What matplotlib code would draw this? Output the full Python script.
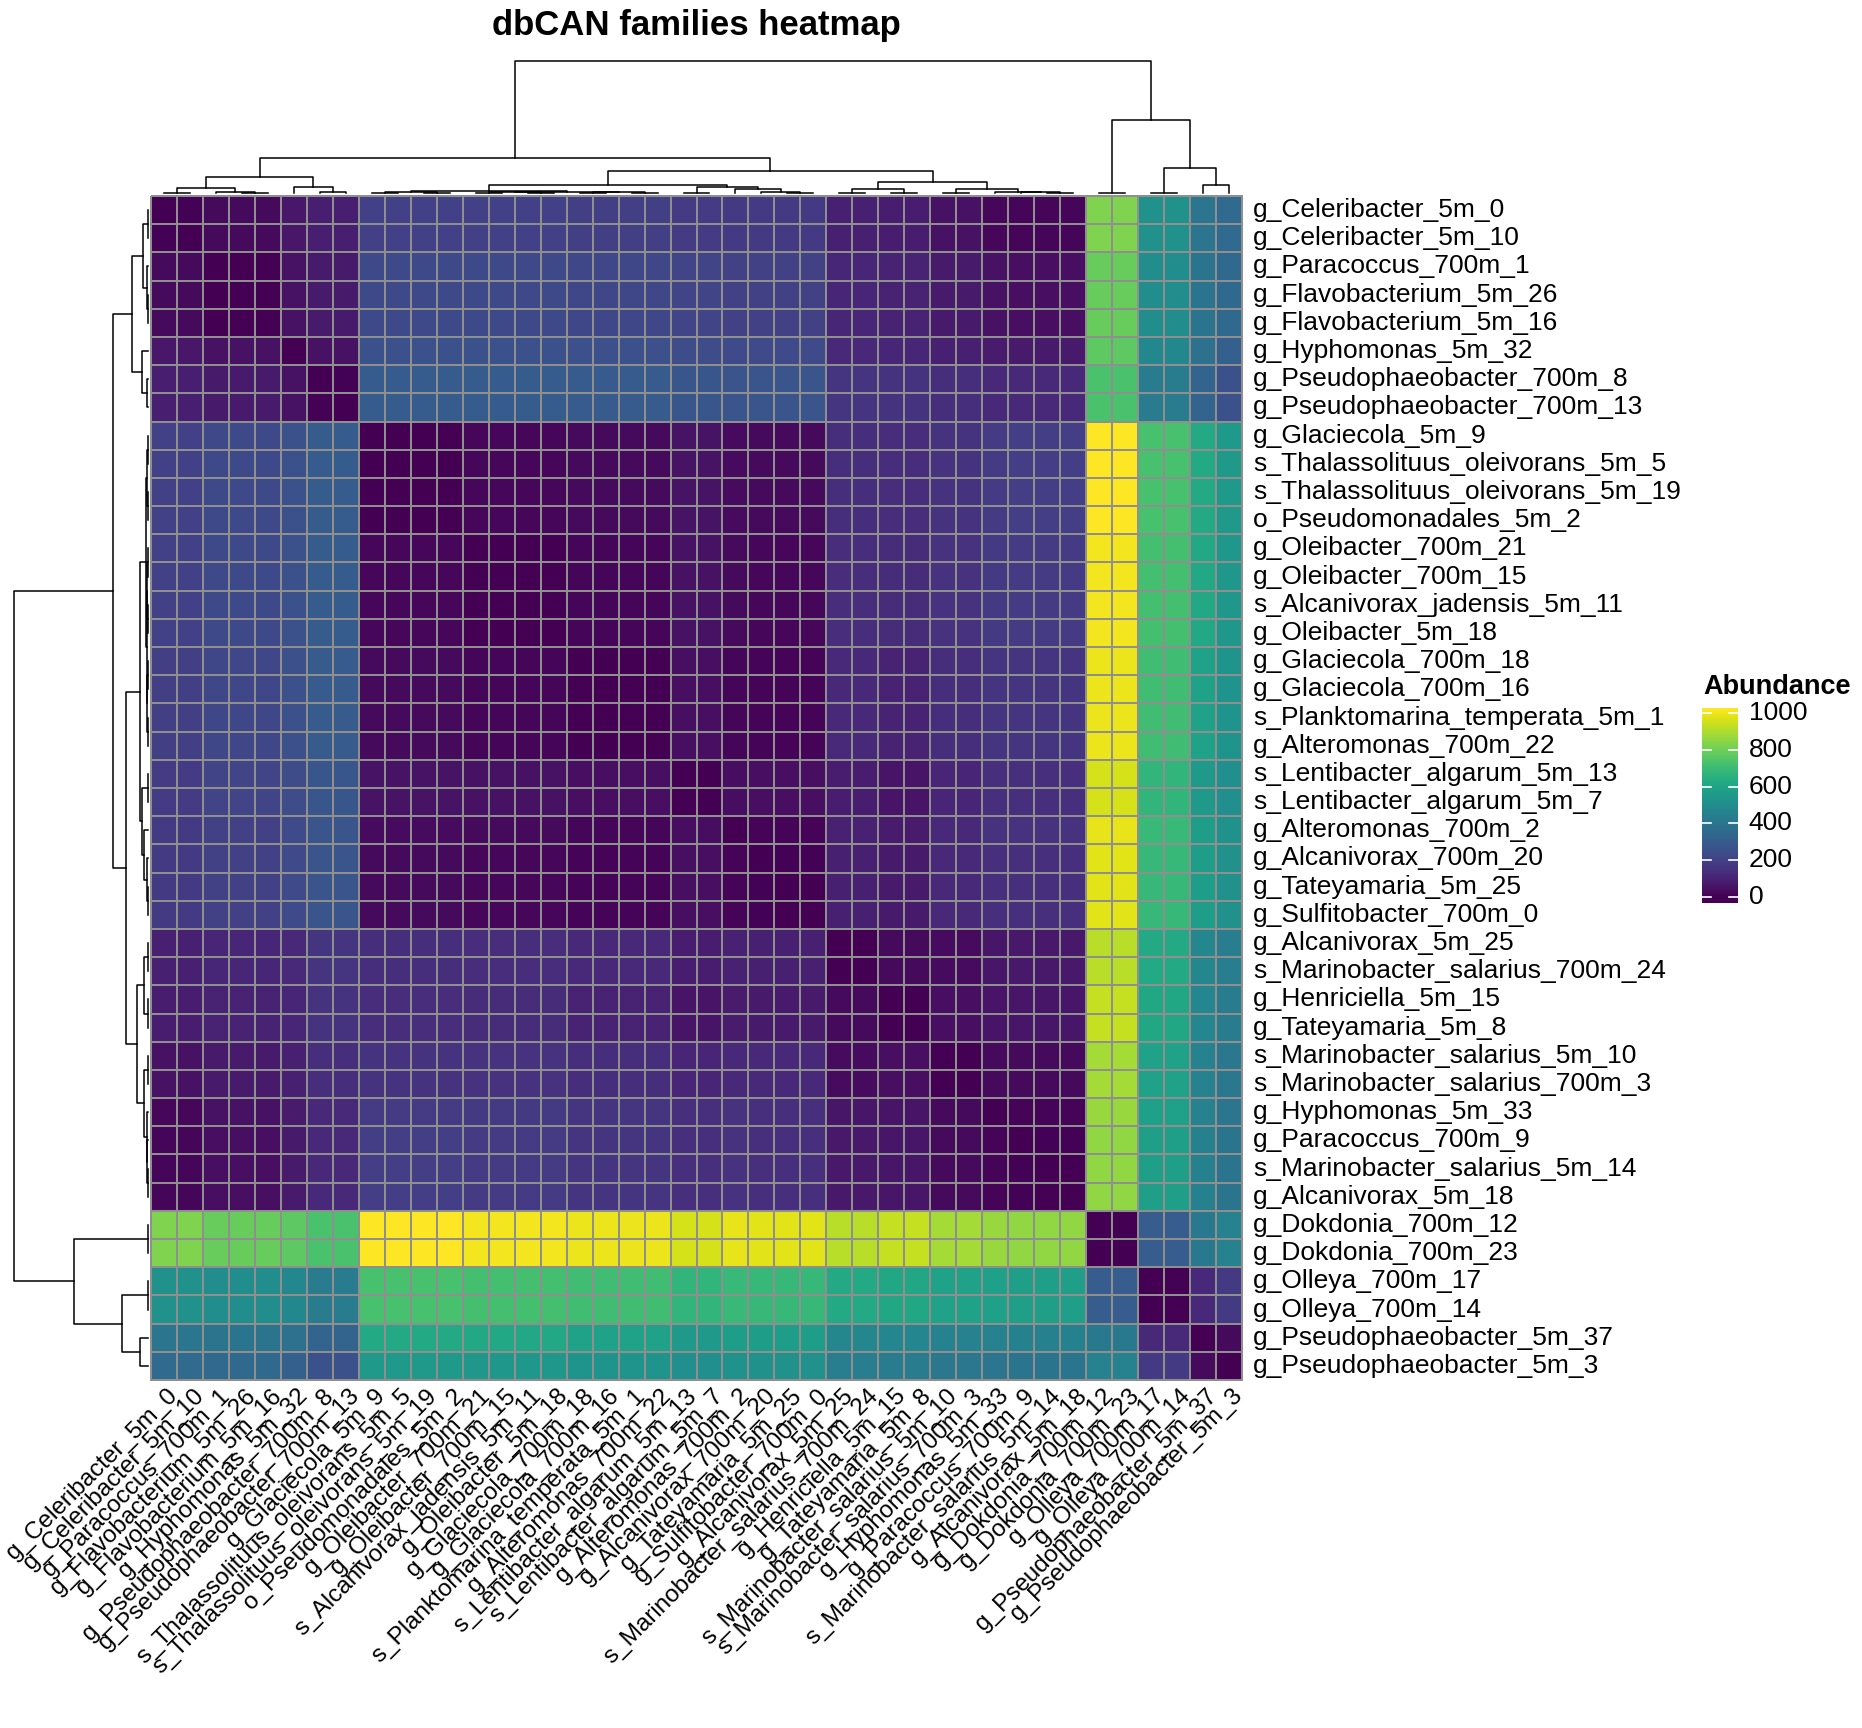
import numpy as np
import matplotlib
matplotlib.use('Agg')
import matplotlib.pyplot as plt
from matplotlib.colors import Normalize
from matplotlib.transforms import blended_transform_factory

plt.rcParams['font.family'] = ['Liberation Sans', 'DejaVu Sans']

W, H = 1862, 1728

labels = [
    'g_Celeribacter_5m_0', 'g_Celeribacter_5m_10', 'g_Paracoccus_700m_1',
    'g_Flavobacterium_5m_26', 'g_Flavobacterium_5m_16', 'g_Hyphomonas_5m_32',
    'g_Pseudophaeobacter_700m_8', 'g_Pseudophaeobacter_700m_13', 'g_Glaciecola_5m_9',
    's_Thalassolituus_oleivorans_5m_5', 's_Thalassolituus_oleivorans_5m_19',
    'o_Pseudomonadales_5m_2', 'g_Oleibacter_700m_21', 'g_Oleibacter_700m_15',
    's_Alcanivorax_jadensis_5m_11', 'g_Oleibacter_5m_18', 'g_Glaciecola_700m_18',
    'g_Glaciecola_700m_16', 's_Planktomarina_temperata_5m_1', 'g_Alteromonas_700m_22',
    's_Lentibacter_algarum_5m_13', 's_Lentibacter_algarum_5m_7', 'g_Alteromonas_700m_2',
    'g_Alcanivorax_700m_20', 'g_Tateyamaria_5m_25', 'g_Sulfitobacter_700m_0',
    'g_Alcanivorax_5m_25', 's_Marinobacter_salarius_700m_24', 'g_Henriciella_5m_15',
    'g_Tateyamaria_5m_8', 's_Marinobacter_salarius_5m_10', 's_Marinobacter_salarius_700m_3',
    'g_Hyphomonas_5m_33', 'g_Paracoccus_700m_9', 's_Marinobacter_salarius_5m_14',
    'g_Alcanivorax_5m_18', 'g_Dokdonia_700m_12', 'g_Dokdonia_700m_23',
    'g_Olleya_700m_17', 'g_Olleya_700m_14', 'g_Pseudophaeobacter_5m_37',
    'g_Pseudophaeobacter_5m_3',
]

# values shown in the heatmap (rows and columns in the displayed order)
abundance = [
    [0, 5, 28, 28, 28, 62, 85, 85, 195, 195, 195, 195, 195, 195, 195, 195, 190, 190, 190, 190, 180, 180, 175, 175, 175, 175, 90, 90, 80, 80, 45, 45, 20, 15, 15, 15, 825, 825, 515, 515, 400, 350],
    [5, 0, 28, 28, 28, 62, 85, 85, 195, 195, 195, 195, 195, 195, 195, 195, 190, 190, 190, 190, 180, 180, 175, 175, 175, 175, 90, 90, 80, 80, 45, 45, 20, 15, 15, 15, 825, 825, 515, 515, 400, 350],
    [28, 28, 0, 3, 3, 45, 70, 70, 228, 228, 228, 228, 225, 225, 225, 225, 220, 220, 220, 220, 205, 205, 200, 200, 200, 200, 110, 110, 100, 100, 70, 70, 45, 40, 40, 40, 785, 785, 500, 500, 395, 345],
    [28, 28, 3, 0, 2, 45, 70, 70, 228, 228, 228, 228, 225, 225, 225, 225, 220, 220, 220, 220, 205, 205, 200, 200, 200, 200, 110, 110, 100, 100, 70, 70, 45, 40, 40, 40, 785, 785, 500, 500, 395, 345],
    [28, 28, 3, 2, 0, 45, 70, 70, 228, 228, 228, 228, 225, 225, 225, 225, 220, 220, 220, 220, 205, 205, 200, 200, 200, 200, 110, 110, 100, 100, 70, 70, 45, 40, 40, 40, 785, 785, 500, 500, 395, 345],
    [62, 62, 45, 45, 45, 0, 46, 46, 255, 255, 255, 255, 255, 255, 255, 255, 250, 250, 250, 250, 235, 235, 230, 230, 230, 230, 120, 120, 110, 110, 90, 90, 75, 70, 70, 70, 770, 770, 480, 480, 380, 310],
    [85, 85, 70, 70, 70, 46, 0, 5, 295, 295, 295, 295, 295, 295, 295, 295, 290, 290, 290, 290, 275, 275, 270, 265, 265, 265, 160, 160, 150, 150, 135, 135, 120, 115, 115, 115, 730, 730, 425, 425, 325, 255],
    [85, 85, 70, 70, 70, 46, 5, 0, 295, 295, 295, 295, 295, 295, 295, 295, 290, 290, 290, 290, 275, 275, 270, 265, 265, 265, 160, 160, 150, 150, 135, 135, 120, 115, 115, 115, 730, 730, 425, 425, 325, 255],
    [195, 195, 228, 228, 228, 255, 295, 295, 0, 2, 4, 4, 18, 18, 18, 18, 25, 25, 25, 25, 50, 50, 30, 25, 25, 25, 135, 135, 130, 130, 150, 150, 180, 185, 185, 185, 1025, 1025, 725, 725, 620, 550],
    [195, 195, 228, 228, 228, 255, 295, 295, 2, 0, 4, 4, 18, 18, 18, 18, 25, 25, 25, 25, 50, 50, 30, 25, 25, 25, 135, 135, 130, 130, 150, 150, 180, 185, 185, 185, 1025, 1025, 725, 725, 620, 550],
    [195, 195, 228, 228, 228, 255, 295, 295, 4, 4, 0, 3, 18, 18, 18, 18, 25, 25, 25, 25, 50, 50, 30, 25, 25, 25, 135, 135, 130, 130, 150, 150, 180, 185, 185, 185, 1025, 1025, 725, 725, 620, 550],
    [195, 195, 228, 228, 228, 255, 295, 295, 4, 4, 3, 0, 18, 18, 18, 18, 25, 25, 25, 25, 50, 50, 30, 25, 25, 25, 135, 135, 130, 130, 150, 150, 180, 185, 185, 185, 1025, 1025, 725, 725, 620, 550],
    [195, 195, 225, 225, 225, 255, 295, 295, 18, 18, 18, 18, 0, 2, 4, 4, 15, 15, 15, 15, 45, 45, 25, 20, 20, 20, 130, 130, 125, 125, 145, 145, 175, 180, 180, 180, 1005, 1005, 720, 720, 615, 545],
    [195, 195, 225, 225, 225, 255, 295, 295, 18, 18, 18, 18, 2, 0, 4, 4, 15, 15, 15, 15, 45, 45, 25, 20, 20, 20, 130, 130, 125, 125, 145, 145, 175, 180, 180, 180, 1005, 1005, 720, 720, 615, 545],
    [195, 195, 225, 225, 225, 255, 295, 295, 18, 18, 18, 18, 4, 4, 0, 2, 15, 15, 15, 15, 45, 45, 25, 20, 20, 20, 130, 130, 125, 125, 145, 145, 175, 180, 180, 180, 1005, 1005, 720, 720, 615, 545],
    [195, 195, 225, 225, 225, 255, 295, 295, 18, 18, 18, 18, 4, 4, 2, 0, 15, 15, 15, 15, 45, 45, 25, 20, 20, 20, 130, 130, 125, 125, 145, 145, 175, 180, 180, 180, 1005, 1005, 720, 720, 615, 545],
    [190, 190, 220, 220, 220, 250, 290, 290, 25, 25, 25, 25, 15, 15, 15, 15, 0, 2, 4, 4, 40, 40, 15, 12, 12, 12, 115, 115, 100, 100, 135, 135, 160, 160, 160, 160, 995, 995, 710, 710, 590, 530],
    [190, 190, 220, 220, 220, 250, 290, 290, 25, 25, 25, 25, 15, 15, 15, 15, 2, 0, 4, 4, 40, 40, 15, 12, 12, 12, 115, 115, 100, 100, 135, 135, 160, 160, 160, 160, 995, 995, 710, 710, 590, 530],
    [190, 190, 220, 220, 220, 250, 290, 290, 25, 25, 25, 25, 15, 15, 15, 15, 4, 4, 0, 2, 40, 40, 15, 12, 12, 12, 115, 115, 100, 100, 135, 135, 160, 160, 160, 160, 995, 995, 710, 710, 590, 530],
    [190, 190, 220, 220, 220, 250, 290, 290, 25, 25, 25, 25, 15, 15, 15, 15, 4, 4, 2, 0, 40, 40, 15, 12, 12, 12, 115, 115, 100, 100, 135, 135, 160, 160, 160, 160, 995, 995, 710, 710, 590, 530],
    [180, 180, 205, 205, 205, 235, 275, 275, 50, 50, 50, 50, 45, 45, 45, 45, 40, 40, 40, 40, 0, 2, 35, 40, 40, 40, 80, 80, 55, 55, 105, 105, 140, 140, 140, 140, 960, 960, 670, 670, 550, 505],
    [180, 180, 205, 205, 205, 235, 275, 275, 50, 50, 50, 50, 45, 45, 45, 45, 40, 40, 40, 40, 2, 0, 35, 40, 40, 40, 80, 80, 55, 55, 105, 105, 140, 140, 140, 140, 960, 960, 670, 670, 550, 505],
    [175, 175, 200, 200, 200, 230, 270, 270, 30, 30, 30, 30, 25, 25, 25, 25, 15, 15, 15, 15, 35, 35, 0, 12, 12, 12, 95, 95, 75, 75, 120, 120, 145, 145, 145, 145, 985, 985, 690, 690, 565, 520],
    [175, 175, 200, 200, 200, 230, 265, 265, 25, 25, 25, 25, 20, 20, 20, 20, 12, 12, 12, 12, 40, 40, 12, 0, 5, 5, 90, 90, 70, 70, 120, 120, 140, 140, 140, 140, 980, 980, 685, 685, 565, 515],
    [175, 175, 200, 200, 200, 230, 265, 265, 25, 25, 25, 25, 20, 20, 20, 20, 12, 12, 12, 12, 40, 40, 12, 5, 0, 3, 90, 90, 70, 70, 120, 120, 140, 140, 140, 140, 980, 980, 685, 685, 565, 515],
    [175, 175, 200, 200, 200, 230, 265, 265, 25, 25, 25, 25, 20, 20, 20, 20, 12, 12, 12, 12, 40, 40, 12, 5, 3, 0, 90, 90, 70, 70, 120, 120, 140, 140, 140, 140, 980, 980, 685, 685, 565, 515],
    [90, 90, 110, 110, 110, 120, 160, 160, 135, 135, 135, 135, 130, 130, 130, 130, 115, 115, 115, 115, 80, 80, 95, 90, 90, 90, 0, 3, 25, 25, 30, 30, 60, 65, 65, 65, 915, 915, 620, 620, 475, 430],
    [90, 90, 110, 110, 110, 120, 160, 160, 135, 135, 135, 135, 130, 130, 130, 130, 115, 115, 115, 115, 80, 80, 95, 90, 90, 90, 3, 0, 25, 25, 30, 30, 60, 65, 65, 65, 915, 915, 620, 620, 475, 430],
    [80, 80, 100, 100, 100, 110, 150, 150, 130, 130, 130, 130, 125, 125, 125, 125, 100, 100, 100, 100, 55, 55, 75, 70, 70, 70, 25, 25, 0, 3, 40, 40, 55, 60, 60, 60, 935, 935, 610, 610, 470, 425],
    [80, 80, 100, 100, 100, 110, 150, 150, 130, 130, 130, 130, 125, 125, 125, 125, 100, 100, 100, 100, 55, 55, 75, 70, 70, 70, 25, 25, 3, 0, 40, 40, 55, 60, 60, 60, 935, 935, 610, 610, 470, 425],
    [45, 45, 70, 70, 70, 90, 135, 135, 150, 150, 150, 150, 145, 145, 145, 145, 135, 135, 135, 135, 105, 105, 120, 120, 120, 120, 30, 30, 40, 40, 0, 3, 25, 25, 25, 25, 885, 885, 590, 590, 455, 405],
    [45, 45, 70, 70, 70, 90, 135, 135, 150, 150, 150, 150, 145, 145, 145, 145, 135, 135, 135, 135, 105, 105, 120, 120, 120, 120, 30, 30, 40, 40, 3, 0, 25, 25, 25, 25, 885, 885, 590, 590, 455, 405],
    [20, 20, 45, 45, 45, 75, 120, 120, 180, 180, 180, 180, 175, 175, 175, 175, 160, 160, 160, 160, 140, 140, 145, 140, 140, 140, 60, 60, 55, 55, 25, 25, 0, 10, 10, 10, 865, 865, 580, 580, 450, 400],
    [15, 15, 40, 40, 40, 70, 115, 115, 185, 185, 185, 185, 180, 180, 180, 180, 160, 160, 160, 160, 140, 140, 145, 140, 140, 140, 65, 65, 60, 60, 25, 25, 10, 0, 5, 5, 855, 855, 575, 575, 445, 395],
    [15, 15, 40, 40, 40, 70, 115, 115, 185, 185, 185, 185, 180, 180, 180, 180, 160, 160, 160, 160, 140, 140, 145, 140, 140, 140, 65, 65, 60, 60, 25, 25, 10, 5, 0, 3, 855, 855, 575, 575, 445, 395],
    [15, 15, 40, 40, 40, 70, 115, 115, 185, 185, 185, 185, 180, 180, 180, 180, 160, 160, 160, 160, 140, 140, 145, 140, 140, 140, 65, 65, 60, 60, 25, 25, 10, 5, 3, 0, 855, 855, 575, 575, 445, 395],
    [825, 825, 785, 785, 785, 770, 730, 730, 1025, 1025, 1025, 1025, 1005, 1005, 1005, 1005, 995, 995, 995, 995, 960, 960, 985, 980, 980, 980, 915, 915, 935, 935, 885, 885, 865, 855, 855, 855, 0, 3, 300, 300, 415, 455],
    [825, 825, 785, 785, 785, 770, 730, 730, 1025, 1025, 1025, 1025, 1005, 1005, 1005, 1005, 995, 995, 995, 995, 960, 960, 985, 980, 980, 980, 915, 915, 935, 935, 885, 885, 865, 855, 855, 855, 3, 0, 300, 300, 415, 455],
    [515, 515, 500, 500, 500, 480, 425, 425, 725, 725, 725, 725, 720, 720, 720, 720, 710, 710, 710, 710, 670, 670, 690, 685, 685, 685, 620, 620, 610, 610, 590, 590, 580, 575, 575, 575, 300, 300, 0, 3, 120, 170],
    [515, 515, 500, 500, 500, 480, 425, 425, 725, 725, 725, 725, 720, 720, 720, 720, 710, 710, 710, 710, 670, 670, 690, 685, 685, 685, 620, 620, 610, 610, 590, 590, 580, 575, 575, 575, 300, 300, 3, 0, 120, 170],
    [400, 400, 395, 395, 395, 380, 325, 325, 620, 620, 620, 620, 615, 615, 615, 615, 590, 590, 590, 590, 550, 550, 565, 565, 565, 565, 475, 475, 470, 470, 455, 455, 450, 445, 445, 445, 415, 415, 120, 120, 0, 25],
    [350, 350, 345, 345, 345, 310, 255, 255, 550, 550, 550, 550, 545, 545, 545, 545, 530, 530, 530, 530, 505, 505, 520, 515, 515, 515, 430, 430, 425, 425, 405, 405, 400, 395, 395, 395, 455, 455, 170, 170, 25, 0],
]

# dendrogram: (left, right, merge height), leaves are display positions
tree = (
    (
        (((0, 1, 0.003), (2, (3, 4, 0.002), 0.004), 0.040),
         (5, (6, 7, 0.004), 0.045), 0.118),
        (
            (
                (((8, 9, 0.002), (10, 11, 0.003), 0.005),
                 (((12, 13, 0.002), (14, 15, 0.002), 0.005),
                  ((16, 17, 0.002), (18, 19, 0.002), 0.004), 0.008), 0.012),
                ((20, 21, 0.001), (22, (23, (24, 25, 0.003), 0.005), 0.028), 0.045),
                0.058),
            (
                ((26, 27, 0.003), (28, 29, 0.003), 0.028),
                ((30, 31, 0.003), (32, (33, (34, 35, 0.002), 0.004), 0.006), 0.033),
                0.083),
            0.166),
        0.264),
    ((36, 37, 0.003), ((38, 39, 0.003), (40, 41, 0.060), 0.193), 0.555),
    1.0,
)

tick_values = [0, 200, 400, 600, 800, 1000]


def px_axes(fig, x0, y0, x1, y1):
    return fig.add_axes([x0 / W, 1 - y1 / H, (x1 - x0) / W, (y1 - y0) / H])


def draw_dendro(ax, node, side):
    if isinstance(node, int):
        return node + 0.5, 0.0
    left, right, h = node
    xl, hl = draw_dendro(ax, left, side)
    xr, hr = draw_dendro(ax, right, side)
    pos = [xl, xl, xr, xr]
    hts = [hl, h, h, hr]
    if side == 'top':
        ax.plot(pos, hts, color='black', lw=1.1, clip_on=False)
    else:
        ax.plot(hts, pos, color='black', lw=1.1, clip_on=False)
    return (xl + xr) / 2, h


data = np.array(abundance, dtype=float)
n = len(labels)
norm = Normalize(vmin=0, vmax=data.max())
cmap = plt.get_cmap('viridis')

fig = plt.figure(figsize=(W / 100, H / 100), dpi=100)

# heatmap body
hx0, hy0, hx1, hy1 = 151, 196, 1242, 1380
hm = px_axes(fig, hx0, hy0, hx1, hy1)
mesh = hm.pcolormesh(np.arange(n + 1), np.arange(n + 1), data, cmap=cmap, norm=norm,
                     edgecolors='#8f8f8f', linewidth=1.3)
mesh.set_clip_on(False)
hm.set_xlim(0, n)
hm.set_ylim(n, 0)
hm.axis('off')

for i, lab in enumerate(labels):
    hm.text(n + 0.42, i + 0.5, lab, ha='left', va='center', fontsize=19, clip_on=False)
    hm.text(i + 0.9, n + 0.45, lab, ha='right', va='center', rotation=45,
            rotation_mode='anchor', fontsize=17.5, clip_on=False)

# column dendrogram
top = px_axes(fig, hx0, 61, hx1, 193)
draw_dendro(top, tree, 'top')
top.set_xlim(0, n)
top.set_ylim(0, 1.0)
top.axis('off')

# row dendrogram
left = px_axes(fig, 14, hy0, 148, hy1)
draw_dendro(left, tree, 'left')
left.set_xlim(1.0, 0)
left.set_ylim(n, 0)
left.axis('off')

fig.text(696 / W, 1 - 26 / H, 'dbCAN families heatmap', ha='center', va='center',
         fontsize=25, fontweight='bold')

# colour legend
cb = px_axes(fig, 1702, 708, 1738, 903)
lo, hi = -33, 1027
grad = np.linspace(lo, hi, 400).reshape(-1, 1)
cb.imshow(grad, cmap=cmap, norm=norm, origin='lower', aspect='auto', extent=[0, 1, lo, hi])
cb.set_xlim(0, 1)
cb.set_ylim(lo, hi)
cb.axis('off')
tr = blended_transform_factory(cb.transAxes, cb.transData)
for v in tick_values:
    cb.plot([0, 0.24], [v, v], color='white', lw=1.2, transform=tr)
    cb.plot([0.76, 1], [v, v], color='white', lw=1.2, transform=tr)
    cb.text(1.3, v, str(v), transform=tr, ha='left', va='center', fontsize=19)
fig.text(1703 / W, 1 - 687 / H, 'Abundance', ha='left', va='center', fontsize=19.5,
         fontweight='bold')

fig.savefig('out.png', dpi=100)
